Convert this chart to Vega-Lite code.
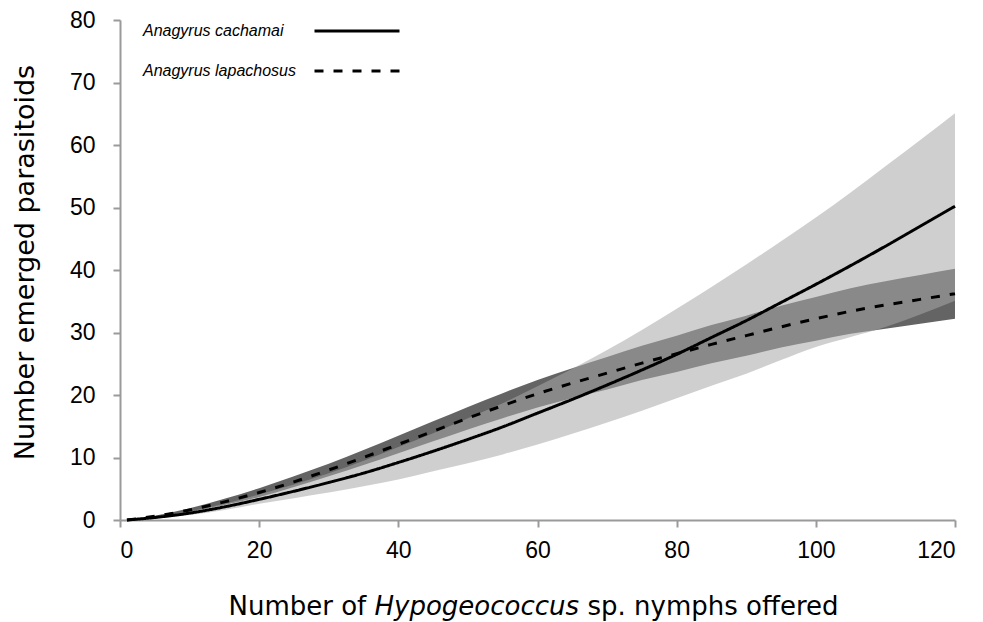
{
  "$schema": "https://vega.github.io/schema/vega-lite/v6.json",
  "autosize": {"type": "none"},
  "padding": {"left": 120, "top": 20, "right": 28, "bottom": 102},
  "width": 835,
  "height": 500,
  "background": "white",
  "data": {"values": [
    {"species": "Anagyrus cachamai", "x": 1, "fit": 0, "lo": 0, "hi": 0},
    {"species": "Anagyrus cachamai", "x": 5, "fit": 0.4, "lo": 0.3, "hi": 0.5},
    {"species": "Anagyrus cachamai", "x": 10, "fit": 1.1, "lo": 0.8, "hi": 1.4},
    {"species": "Anagyrus cachamai", "x": 15, "fit": 2.1, "lo": 1.6, "hi": 2.6},
    {"species": "Anagyrus cachamai", "x": 20, "fit": 3.3, "lo": 2.6, "hi": 4.1},
    {"species": "Anagyrus cachamai", "x": 25, "fit": 4.6, "lo": 3.5, "hi": 5.7},
    {"species": "Anagyrus cachamai", "x": 30, "fit": 6.0, "lo": 4.4, "hi": 7.5},
    {"species": "Anagyrus cachamai", "x": 35, "fit": 7.5, "lo": 5.4, "hi": 9.5},
    {"species": "Anagyrus cachamai", "x": 40, "fit": 9.2, "lo": 6.5, "hi": 11.7},
    {"species": "Anagyrus cachamai", "x": 45, "fit": 11.0, "lo": 7.8, "hi": 13.9},
    {"species": "Anagyrus cachamai", "x": 50, "fit": 12.9, "lo": 9.1, "hi": 16.3},
    {"species": "Anagyrus cachamai", "x": 55, "fit": 14.9, "lo": 10.5, "hi": 18.7},
    {"species": "Anagyrus cachamai", "x": 60, "fit": 17.1, "lo": 12.1, "hi": 21.4},
    {"species": "Anagyrus cachamai", "x": 65, "fit": 19.3, "lo": 13.8, "hi": 24.2},
    {"species": "Anagyrus cachamai", "x": 70, "fit": 21.6, "lo": 15.6, "hi": 27.2},
    {"species": "Anagyrus cachamai", "x": 75, "fit": 24.0, "lo": 17.5, "hi": 30.4},
    {"species": "Anagyrus cachamai", "x": 80, "fit": 26.5, "lo": 19.5, "hi": 33.8},
    {"species": "Anagyrus cachamai", "x": 85, "fit": 29.2, "lo": 21.5, "hi": 37.3},
    {"species": "Anagyrus cachamai", "x": 90, "fit": 31.9, "lo": 23.4, "hi": 40.9},
    {"species": "Anagyrus cachamai", "x": 95, "fit": 34.8, "lo": 25.6, "hi": 44.6},
    {"species": "Anagyrus cachamai", "x": 100, "fit": 37.7, "lo": 27.7, "hi": 48.4},
    {"species": "Anagyrus cachamai", "x": 105, "fit": 40.7, "lo": 29.3, "hi": 52.4},
    {"species": "Anagyrus cachamai", "x": 110, "fit": 43.8, "lo": 30.9, "hi": 56.6},
    {"species": "Anagyrus cachamai", "x": 115, "fit": 47.0, "lo": 32.9, "hi": 60.8},
    {"species": "Anagyrus cachamai", "x": 120, "fit": 50.2, "lo": 35.1, "hi": 65.1},
    {"species": "Anagyrus lapachosus", "x": 1, "fit": 0, "lo": 0, "hi": 0},
    {"species": "Anagyrus lapachosus", "x": 5, "fit": 0.6, "lo": 0.5, "hi": 0.7},
    {"species": "Anagyrus lapachosus", "x": 10, "fit": 1.6, "lo": 1.3, "hi": 1.9},
    {"species": "Anagyrus lapachosus", "x": 15, "fit": 2.9, "lo": 2.4, "hi": 3.4},
    {"species": "Anagyrus lapachosus", "x": 20, "fit": 4.4, "lo": 3.7, "hi": 5.1},
    {"species": "Anagyrus lapachosus", "x": 25, "fit": 6.1, "lo": 5.3, "hi": 7.0},
    {"species": "Anagyrus lapachosus", "x": 30, "fit": 8.0, "lo": 7.0, "hi": 9.0},
    {"species": "Anagyrus lapachosus", "x": 35, "fit": 10.0, "lo": 8.8, "hi": 11.2},
    {"species": "Anagyrus lapachosus", "x": 40, "fit": 12.1, "lo": 10.7, "hi": 13.5},
    {"species": "Anagyrus lapachosus", "x": 45, "fit": 14.2, "lo": 12.6, "hi": 15.8},
    {"species": "Anagyrus lapachosus", "x": 50, "fit": 16.3, "lo": 14.5, "hi": 18.1},
    {"species": "Anagyrus lapachosus", "x": 55, "fit": 18.3, "lo": 16.3, "hi": 20.3},
    {"species": "Anagyrus lapachosus", "x": 60, "fit": 20.2, "lo": 18.0, "hi": 22.4},
    {"species": "Anagyrus lapachosus", "x": 65, "fit": 21.9, "lo": 19.5, "hi": 24.3},
    {"species": "Anagyrus lapachosus", "x": 70, "fit": 23.5, "lo": 20.9, "hi": 26.1},
    {"species": "Anagyrus lapachosus", "x": 75, "fit": 25.1, "lo": 22.4, "hi": 27.9},
    {"species": "Anagyrus lapachosus", "x": 80, "fit": 26.6, "lo": 23.7, "hi": 29.5},
    {"species": "Anagyrus lapachosus", "x": 85, "fit": 28.1, "lo": 25.1, "hi": 31.2},
    {"species": "Anagyrus lapachosus", "x": 90, "fit": 29.5, "lo": 26.3, "hi": 32.7},
    {"species": "Anagyrus lapachosus", "x": 95, "fit": 30.9, "lo": 27.6, "hi": 34.3},
    {"species": "Anagyrus lapachosus", "x": 100, "fit": 32.2, "lo": 28.7, "hi": 35.7},
    {"species": "Anagyrus lapachosus", "x": 105, "fit": 33.4, "lo": 29.8, "hi": 37.1},
    {"species": "Anagyrus lapachosus", "x": 110, "fit": 34.4, "lo": 30.6, "hi": 38.2},
    {"species": "Anagyrus lapachosus", "x": 115, "fit": 35.3, "lo": 31.4, "hi": 39.2},
    {"species": "Anagyrus lapachosus", "x": 120, "fit": 36.2, "lo": 32.2, "hi": 40.2}
  ]},
  "resolve": {"axis": {"x": "independent"}, "legend": {"strokeDash": "independent"}},
  "layer": [
    {
      "transform": [{"filter": "datum.species === 'Anagyrus lapachosus'"}],
      "mark": {"type": "area", "color": "#646464", "interpolate": "monotone"},
      "encoding": {
        "x": {"field": "x", "type": "quantitative", "scale": {"domain": [0, 120], "nice": false},
          "axis": {"orient": "bottom", "values": [0, 20, 40, 60, 80, 100, 120], "title": "Number of", "titleX": 108, "titleY": 94, "titleAlign": "left", "titleBaseline": "alphabetic", "titleAngle": 0}},
        "y": {"field": "lo", "type": "quantitative", "scale": {"domain": [0, 80], "nice": false},
          "axis": {"title": "Number emerged parasitoids", "values": [0, 10, 20, 30, 40, 50, 60, 70, 80]}},
        "y2": {"field": "hi"}
      }
    },
    {
      "transform": [{"filter": "datum.species === 'Anagyrus cachamai'"}],
      "mark": {"type": "area", "color": "#a8a8a8", "opacity": 0.55, "interpolate": "monotone"},
      "encoding": {
        "x": {"field": "x", "type": "quantitative", "scale": {"domain": [0, 120], "nice": false},
          "axis": {"orient": "bottom", "domain": false, "ticks": false, "labels": false, "title": "Hypogeococcus", "titleFontStyle": "italic", "titleX": 254, "titleY": 94, "titleAlign": "left", "titleBaseline": "alphabetic", "titleAngle": 0}},
        "y": {"field": "lo", "type": "quantitative", "axis": {"title": "Number emerged parasitoids", "values": [0, 10, 20, 30, 40, 50, 60, 70, 80]}},
        "y2": {"field": "hi"}
      }
    },
    {
      "transform": [{"filter": "datum.species === 'Anagyrus cachamai'"}],
      "mark": {"type": "line", "strokeWidth": 3, "color": "#000000", "interpolate": "monotone"},
      "encoding": {
        "x": {"field": "x", "type": "quantitative", "scale": {"domain": [0, 120], "nice": false},
          "axis": {"orient": "bottom", "domain": false, "ticks": false, "labels": false, "title": "sp. nymphs offered", "titleX": 467, "titleY": 94, "titleAlign": "left", "titleBaseline": "alphabetic", "titleAngle": 0}},
        "y": {"field": "fit", "type": "quantitative", "axis": {"title": "Number emerged parasitoids", "values": [0, 10, 20, 30, 40, 50, 60, 70, 80]}},
        "strokeDash": {"field": "species", "type": "nominal",
          "scale": {"domain": ["Anagyrus cachamai", "Anagyrus lapachosus"], "range": [[1, 0], [9, 10]]},
          "legend": {"title": null, "values": ["Anagyrus cachamai"], "legendX": 193, "legendY": -33}}
      }
    },
    {
      "transform": [{"filter": "datum.species === 'Anagyrus lapachosus'"}],
      "mark": {"type": "line", "strokeWidth": 3, "color": "#000000", "interpolate": "monotone"},
      "encoding": {
        "x": {"field": "x", "type": "quantitative", "scale": {"domain": [0, 120], "nice": false}, "axis": null},
        "y": {"field": "fit", "type": "quantitative", "axis": {"title": "Number emerged parasitoids", "values": [0, 10, 20, 30, 40, 50, 60, 70, 80]}},
        "strokeDash": {"field": "species", "type": "nominal",
          "scale": {"domain": ["Anagyrus cachamai", "Anagyrus lapachosus"], "range": [[1, 0], [9, 10]]},
          "legend": {"title": null, "values": ["Anagyrus lapachosus"], "legendX": 193, "legendY": 7}}
      }
    }
  ],
  "config": {
    "view": {"stroke": null},
    "axis": {
      "grid": false,
      "domainColor": "#9a9a9a",
      "domainWidth": 2,
      "tickColor": "#9a9a9a",
      "tickWidth": 2,
      "tickSize": 7,
      "labelFont": "Liberation Sans",
      "labelFontSize": 23,
      "labelColor": "#000000",
      "titleFont": "DejaVu Sans",
      "titleFontSize": 26,
      "titleFontWeight": "normal",
      "titleColor": "#000000"
    },
    "axisX": {"labelPadding": 12},
    "axisY": {"labelPadding": 18, "titleX": -95, "titleY": 242, "titleAngle": -90, "titleAlign": "center", "titleBaseline": "middle", "titleFontSize": 27},
    "legend": {
      "orient": "none",
      "symbolType": "stroke",
      "symbolSize": 7225,
      "symbolStrokeWidth": 3,
      "symbolStrokeColor": "#000000",
      "labelFont": "Liberation Sans",
      "labelFontStyle": "italic",
      "labelFontSize": 16,
      "labelColor": "#000000",
      "labelAlign": "left",
      "labelOffset": -258
    }
  }
}
